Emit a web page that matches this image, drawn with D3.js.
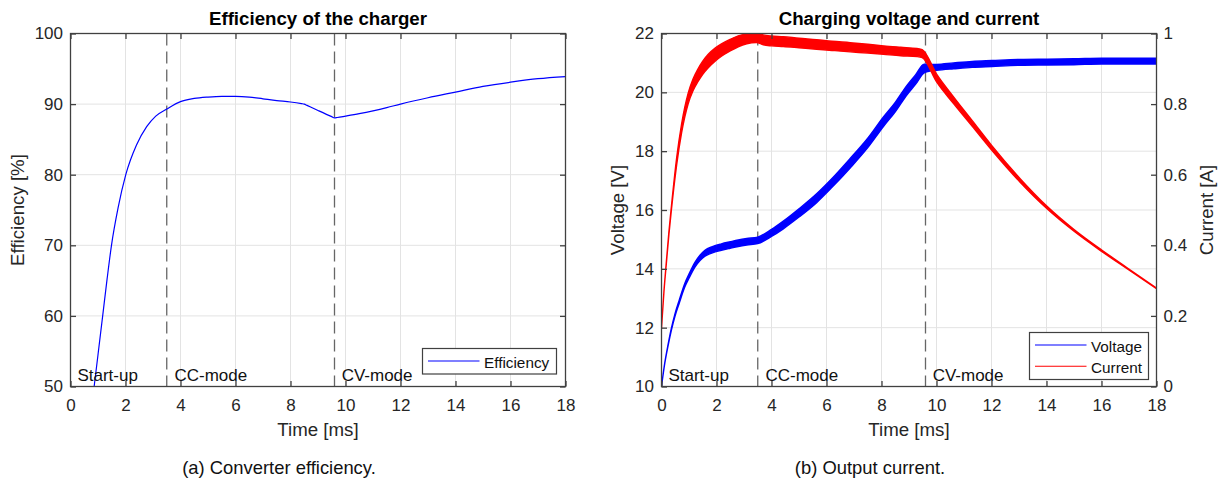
<!DOCTYPE html>
<html>
<head>
<meta charset="utf-8">
<script src="https://cdn.jsdelivr.net/npm/d3@7"></script>
<style>
  body { margin: 0; background: #fff; }
  svg { display: block; }
  text { font-family: "Liberation Sans", Arial, Helvetica, sans-serif; }
</style>
</head>
<body>
<svg id="chart" width="1227" height="482"></svg>
<script>
// ---------- Efficiency of the charger ----------
const effTime = [0.86, 1.0, 1.17, 1.33, 1.49, 1.73, 2.01, 2.4, 2.77, 3.1, 3.5, 4.0, 4.5, 5.0, 5.5, 6.0, 6.5, 7.0, 7.5, 8.0, 8.4, 8.5, 8.6, 9.0, 9.5, 9.6, 9.7, 10.0, 10.5, 11.0, 11.5, 12.0, 13.0, 14.0, 15.0, 16.0, 17.0, 18.0];
const effValue = [50, 54.5, 60, 65.2, 70, 75.3, 80, 84.2, 86.8, 88.3, 89.3, 90.35, 90.8, 91.0, 91.1, 91.1, 91.0, 90.75, 90.5, 90.3, 90.07, 90.0, 89.82, 89.1, 88.22, 88.05, 88.1, 88.3, 88.65, 89.05, 89.5, 90.0, 90.9, 91.7, 92.5, 93.1, 93.6, 93.9];

// ---------- Charging voltage (left axis, V) ----------
const voltTime = [0, 0.12, 0.24, 0.36, 0.49, 0.65, 0.85, 1.0, 1.21, 1.4, 1.58, 1.85, 2.18, 2.5, 2.79, 3.1, 3.5, 4.0, 4.43, 5.0, 5.64, 6.2, 6.86, 7.5, 8.07, 8.5, 8.92, 9.25, 9.55, 9.8, 10.0, 10.62, 11.3, 12.02, 13.05, 14.02, 15.0, 16.0, 17.0, 18.0];
const voltValue = [10, 10.8, 11.41, 11.95, 12.43, 12.9, 13.45, 13.75, 14.13, 14.37, 14.53, 14.65, 14.74, 14.81, 14.87, 14.92, 14.97, 15.22, 15.49, 15.9, 16.4, 16.92, 17.59, 18.28, 19.0, 19.5, 20.07, 20.45, 20.81, 20.84, 20.85, 20.9, 20.95, 20.98, 21.02, 21.03, 21.04, 21.06, 21.06, 21.06];
// peak-to-peak ripple band of the voltage trace
const voltRipple = [0, 0.02, 0.04, 0.06, 0.08, 0.1, 0.12, 0.14, 0.16, 0.18, 0.2, 0.21, 0.22, 0.22, 0.22, 0.22, 0.22, 0.24, 0.26, 0.28, 0.3, 0.3, 0.32, 0.32, 0.32, 0.32, 0.32, 0.32, 0.3, 0.22, 0.2, 0.2, 0.2, 0.2, 0.2, 0.2, 0.2, 0.2, 0.2, 0.2];

// ---------- Charging current (right axis, A) ----------
const currTime = [0, 0.09, 0.18, 0.27, 0.36, 0.55, 0.73, 0.97, 1.15, 1.33, 1.5, 1.7, 1.95, 2.18, 2.5, 2.79, 3.1, 3.45, 3.7, 4.0, 4.43, 5.0, 5.64, 6.2, 6.86, 7.5, 8.07, 8.7, 9.29, 9.48, 10.01, 10.62, 11.3, 12.02, 13.05, 14.02, 14.99, 16.02, 16.93, 18.0];
const currValue = [0.165, 0.27, 0.354, 0.435, 0.505, 0.637, 0.731, 0.816, 0.855, 0.882, 0.903, 0.922, 0.94, 0.953, 0.967, 0.978, 0.985, 0.988, 0.982, 0.979, 0.977, 0.973, 0.969, 0.965, 0.961, 0.957, 0.953, 0.949, 0.946, 0.943, 0.873, 0.811, 0.745, 0.675, 0.583, 0.507, 0.443, 0.384, 0.335, 0.278];
const currRipple = [0, 0.002, 0.005, 0.008, 0.01, 0.02, 0.025, 0.03, 0.033, 0.036, 0.037, 0.038, 0.037, 0.035, 0.033, 0.031, 0.028, 0.027, 0.028, 0.028, 0.028, 0.027, 0.027, 0.026, 0.026, 0.025, 0.024, 0.024, 0.023, 0.023, 0.022, 0.019, 0.016, 0.013, 0.01, 0.007, 0.005, 0.004, 0.003, 0.002];

// ---------- Annotations ----------
const modeBounds = [3.5, 9.6];
const modeLabels = ["Start-up", "CC-mode", "CV-mode"];
const modeLabelTime = [0.25, 3.78, 9.86];

const timeTicks = [0, 2, 4, 6, 8, 10, 12, 14, 16, 18];
const effTicks = [50, 60, 70, 80, 90, 100];
const voltTicks = [10, 12, 14, 16, 18, 20, 22];
const currTicks = [0, 0.2, 0.4, 0.6, 0.8, 1];

const svg = d3.select("#chart");
const axisColor = "#404040";
const textColor = "#262626";
const gridColor = "#e3e3e3";
const tickLen = 5.5;
const plotTop = 33.5, plotBottom = 386.5;

function zip(t, v, r) { return t.map((d, i) => ({ t: d, v: v[i], r: r ? r[i] : 0 })); }

function styleAxis(sel, size) {
  sel.select(".domain").remove();
  sel.selectAll(".tick line").attr("stroke", axisColor).attr("stroke-width", 1.3);
  sel.selectAll(".tick text").attr("fill", textColor).style("font-size", size + "px");
}

function panel(opts) {
  const g = svg.append("g");
  const x = opts.x;
  const y = opts.y;
  const [x0, x1] = x.range();

  // grid
  g.append("g").selectAll("line").data(timeTicks).join("line")
    .attr("x1", d => x(d)).attr("x2", d => x(d)).attr("y1", plotTop).attr("y2", plotBottom)
    .attr("stroke", gridColor).attr("stroke-width", 1);
  g.append("g").selectAll("line").data(opts.yTicks).join("line")
    .attr("x1", x0).attr("x2", x1).attr("y1", d => y(d)).attr("y2", d => y(d))
    .attr("stroke", gridColor).attr("stroke-width", 1);

  // mode boundaries
  g.append("g").selectAll("line").data(modeBounds).join("line")
    .attr("x1", d => x(d)).attr("x2", d => x(d)).attr("y1", plotTop).attr("y2", plotBottom)
    .attr("stroke", "#666").attr("stroke-width", 1.3).attr("stroke-dasharray", "12,6");

  const clipId = "clip" + opts.id;
  svg.append("clipPath").attr("id", clipId).append("rect")
    .attr("x", x0).attr("y", plotTop).attr("width", x1 - x0).attr("height", plotBottom - plotTop);
  const plot = g.append("g").attr("clip-path", `url(#${clipId})`);
  opts.draw(plot);

  // mode labels
  g.append("g").selectAll("text").data(modeLabels).join("text")
    .attr("x", (d, i) => x(modeLabelTime[i])).attr("y", plotBottom - 6)
    .attr("fill", "#111").style("font-size", "17px").text(d => d);

  // axes (inward ticks)
  styleAxis(g.append("g").attr("transform", `translate(0,${plotBottom})`)
    .call(d3.axisBottom(x).tickValues(timeTicks).tickSize(-tickLen).tickPadding(12.6).tickFormat(d3.format("d"))), 17);
  styleAxis(g.append("g").attr("transform", `translate(0,${plotTop})`)
    .call(d3.axisTop(x).tickValues(timeTicks).tickSize(-tickLen).tickFormat("")), 17);
  styleAxis(g.append("g").attr("transform", `translate(${x0},0)`)
    .call(d3.axisLeft(y).tickValues(opts.yTicks).tickSize(-tickLen).tickPadding(7.5).tickFormat(d3.format("d"))), 17);
  if (opts.y2) {
    styleAxis(g.append("g").attr("transform", `translate(${x1},0)`)
      .call(d3.axisRight(opts.y2).tickValues(opts.y2Ticks).tickSize(-tickLen).tickPadding(7).tickFormat(d => d3.format("~g")(d))), 17);
  } else {
    styleAxis(g.append("g").attr("transform", `translate(${x1},0)`)
      .call(d3.axisRight(y).tickValues(opts.yTicks).tickSize(-tickLen).tickFormat("")), 17);
  }
  // plot area box
  g.append("rect")
    .attr("x", x0).attr("y", plotTop).attr("width", x1 - x0).attr("height", plotBottom - plotTop)
    .attr("fill", "none").attr("stroke", axisColor).attr("stroke-width", 1.3);

  // title and labels
  const cx = (x0 + x1) / 2;
  g.append("text").attr("x", cx).attr("y", 25).attr("text-anchor", "middle")
    .style("font-size", "18.7px").style("font-weight", "bold").attr("fill", "#000").text(opts.title);
  g.append("text").attr("x", cx).attr("y", 436).attr("text-anchor", "middle")
    .style("font-size", "18.7px").attr("fill", textColor).text("Time [ms]");
  g.append("text").attr("transform", `translate(${opts.yLabelX},${(plotTop + plotBottom) / 2}) rotate(-90)`)
    .attr("text-anchor", "middle").style("font-size", "18.7px").attr("fill", textColor).text(opts.yLabel);
  if (opts.y2Label) {
    g.append("text").attr("transform", `translate(${opts.y2LabelX},${(plotTop + plotBottom) / 2}) rotate(-90)`)
      .attr("text-anchor", "middle").style("font-size", "18.7px").attr("fill", textColor).text(opts.y2Label);
  }
  g.append("text").attr("x", opts.captionX).attr("y", 474).attr("text-anchor", "middle")
    .style("font-size", "18.4px").attr("fill", "#111").text(opts.caption);

  // legend
  const lg = g.append("g");
  const L = opts.legend;
  lg.append("rect").attr("x", L.x).attr("y", L.y).attr("width", L.w).attr("height", L.h)
    .attr("fill", "#fff").attr("stroke", axisColor).attr("stroke-width", 1.2);
  L.items.forEach((it, i) => {
    const yy = L.y + L.first + i * L.step;
    lg.append("line").attr("x1", L.x + 5.5).attr("x2", L.x + 57).attr("y1", yy).attr("y2", yy)
      .attr("stroke", it.color).attr("stroke-width", 1.1);
    lg.append("text").attr("x", L.x + 61.5).attr("y", yy + 6.5)
      .style("font-size", "15.3px").attr("fill", "#111").text(it.name);
  });
}

// ---------- Left panel: efficiency ----------
const xL = d3.scaleLinear([0, 18], [70.5, 565.5]);
const yEff = d3.scaleLinear([50, 100], [plotBottom, plotTop]);
panel({
  id: "L", x: xL, y: yEff, yTicks: effTicks,
  title: "Efficiency of the charger", yLabel: "Efficiency [%]", yLabelX: 23.5,
  caption: "(a) Converter efficiency.", captionX: 279,
  legend: { x: 422.5, y: 348.5, w: 134, h: 25.5, first: 12.5, step: 21, items: [{ name: "Efficiency", color: "#0000ff" }] },
  draw: p => {
    p.append("path").datum(zip(effTime, effValue))
      .attr("fill", "none").attr("stroke", "#0000ff").attr("stroke-width", 1.2)
      .attr("d", d3.line().x(d => xL(d.t)).y(d => yEff(d.v)).curve(d3.curveMonotoneX));
  }
});

// ---------- Right panel: voltage and current ----------
const xR = d3.scaleLinear([0, 18], [661.5, 1156.5]);
const yVolt = d3.scaleLinear([10, 22], [plotBottom, plotTop]);
const yCurr = d3.scaleLinear([0, 1], [plotBottom, plotTop]);
panel({
  id: "R", x: xR, y: yVolt, yTicks: voltTicks, y2: yCurr, y2Ticks: currTicks,
  title: "Charging voltage and current", yLabel: "Voltage [V]", yLabelX: 623.5,
  y2Label: "Current [A]", y2LabelX: 1213,
  caption: "(b) Output current.", captionX: 870,
  legend: { x: 1029.5, y: 332.5, w: 119, h: 47, first: 12.5, step: 21.3,
    items: [{ name: "Voltage", color: "#0000ff" }, { name: "Current", color: "#ff0000" }] },
  draw: p => {
    const band = (ys) => d3.area().x(d => xR(d.t))
      .y0(d => ys(d.v - d.r / 2)).y1(d => ys(d.v + d.r / 2)).curve(d3.curveMonotoneX);
    p.append("path").datum(zip(voltTime, voltValue, voltRipple))
      .attr("fill", "#0000ff").attr("stroke", "#0000ff").attr("stroke-width", 1.4)
      .attr("stroke-linejoin", "round").attr("d", band(yVolt));
    p.append("path").datum(zip(currTime, currValue, currRipple))
      .attr("fill", "#ff0000").attr("stroke", "#ff0000").attr("stroke-width", 1.4)
      .attr("stroke-linejoin", "round").attr("d", band(yCurr));
  }
});
</script>
</body>
</html>
